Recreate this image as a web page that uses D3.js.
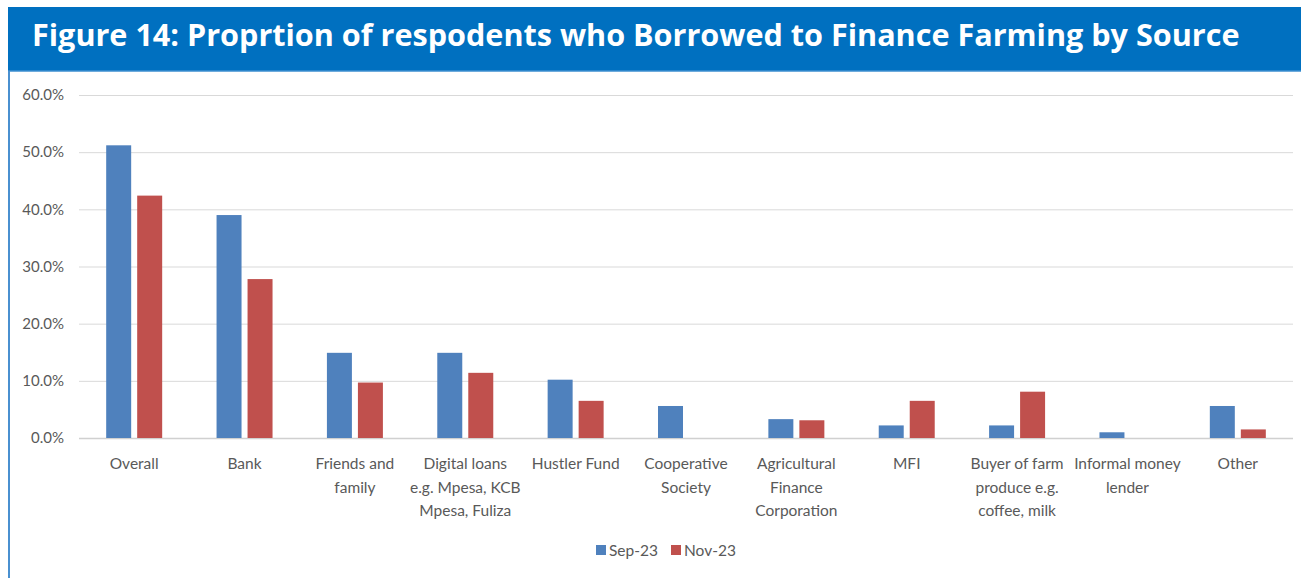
<!DOCTYPE html>
<html>
<head>
<meta charset="utf-8">
<script src="https://cdn.jsdelivr.net/npm/d3@7"></script>
<style>
  html, body { margin: 0; padding: 0; background: #fff; }
  svg { display: block; }
</style>
</head>
<body>
<svg id="chart" width="1301" height="578"></svg>
<script>
// Borrowing sources and share of respondents (percent)
const categories = [
  ["Overall"],
  ["Bank"],
  ["Friends and", "family"],
  ["Digital loans", "e.g. Mpesa, KCB", "Mpesa, Fuliza"],
  ["Hustler Fund"],
  ["Cooperative", "Society"],
  ["Agricultural", "Finance", "Corporation"],
  ["MFI"],
  ["Buyer of farm", "produce e.g.", "coffee, milk"],
  ["Informal money", "lender"],
  ["Other"]
];
const sep23 = [51.2, 39.0, 14.9, 14.9, 10.2, 5.6, 3.3, 2.2, 2.2, 1.0, 5.6];
const nov23 = [42.4, 27.8, 9.7, 11.4, 6.5, 0, 3.1, 6.5, 8.1, 0, 1.5];
const seriesNames = ["Sep-23", "Nov-23"];
const yTicks = [0, 10, 20, 30, 40, 50, 60];
const titleText = "Figure 14: Proprtion of respodents who Borrowed to Finance Farming by Source";

const colors = ["#4F81BD", "#C0504D"];
const svg = d3.select("#chart");
const W = 1301, H = 578;

// Title banner
svg.append("rect").attr("x", 8).attr("y", 7).attr("width", W - 8).attr("height", 64)
  .attr("fill", "#0070C0");
svg.append("line").attr("x1", 8).attr("x2", W).attr("y1", 71).attr("y2", 71)
  .attr("stroke", "#3d8fd1").attr("stroke-width", 1.5);
const title = svg.append("text").attr("x", 32).attr("y", 46)
  .attr("fill", "#fff").attr("font-family", "'Open Sans', sans-serif")
  .attr("font-weight", 700).attr("font-size", 30).text(titleText);
// fit title to the banner width
const tw = title.node().getComputedTextLength();
title.attr("font-size", 30 * 1208 / tw);

// Left frame line
svg.append("line").attr("x1", 9).attr("x2", 9).attr("y1", 71).attr("y2", H)
  .attr("stroke", "#4a90d0").attr("stroke-width", 2);

const plotLeft = 79, plotRight = 1293;
const plotW = plotRight - plotLeft;

const x = d3.scaleBand().domain(d3.range(categories.length))
  .range([plotLeft, plotRight]).paddingInner(0).paddingOuter(0);
const y = d3.scaleLinear().domain([0, 60]).range([438, 95]);
const xs = d3.scaleBand().domain(d3.range(2)).range([0, x.bandwidth()])
  .paddingInner(0.194).paddingOuter(0.877);

// Gridlines
const yAxis = d3.axisLeft(y).tickValues(yTicks).tickSize(-plotW)
  .tickFormat(d => d.toFixed(1) + "%");
const gy = svg.append("g").attr("transform", `translate(${plotLeft},0)`).call(yAxis);
gy.select(".domain").remove();
gy.selectAll(".tick line").attr("stroke", "#d9d9d9").attr("stroke-width", 1);
gy.selectAll(".tick text").attr("x", -15).attr("fill", "#595959")
  .attr("font-family", "'Source Sans Pro', Lato, sans-serif").attr("font-size", 15);
gy.selectAll(".tick").filter(d => d === 0).select("line")
  .attr("stroke", "#d0d0d0").attr("stroke-width", 1.5);

// Bars
const data = sep23.map((s, i) => [s, nov23[i]]);
const groups = svg.append("g").selectAll("g").data(data).join("g")
  .attr("transform", (d, i) => `translate(${x(i)},0)`);
groups.selectAll("rect").data(d => d).join("rect")
  .attr("x", (d, j) => xs(j))
  .attr("width", xs.bandwidth())
  .attr("y", d => y(d))
  .attr("height", d => y(0) - y(d))
  .attr("fill", (d, j) => colors[j]);

// Category labels
const gx = svg.append("g");
categories.forEach((lines, i) => {
  const t = gx.append("text").attr("x", x(i) + x.bandwidth() / 2).attr("y", 469)
    .attr("text-anchor", "middle").attr("fill", "#595959")
    .attr("font-family", "'Source Sans Pro', Lato, sans-serif").attr("font-size", 15.5);
  lines.forEach((ln, k) => {
    t.append("tspan").attr("x", x(i) + x.bandwidth() / 2).attr("dy", k === 0 ? 0 : 23.5).text(ln);
  });
});

// Legend
const legend = svg.append("g");
const lx = [596, 671];
seriesNames.forEach((name, j) => {
  legend.append("rect").attr("x", lx[j]).attr("y", 545).attr("width", 10).attr("height", 10)
    .attr("fill", colors[j]);
  legend.append("text").attr("x", lx[j] + 13).attr("y", 556).attr("fill", "#595959")
    .attr("font-family", "'Source Sans Pro', Lato, sans-serif").attr("font-size", 15.5).text(name);
});
</script>
</body>
</html>
